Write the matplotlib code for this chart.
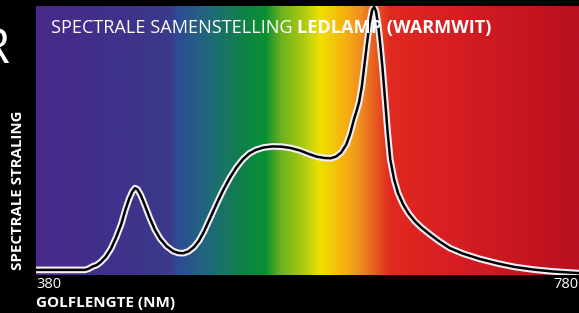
import matplotlib
matplotlib.use("Agg")
import matplotlib.pyplot as plt
import numpy as np
from matplotlib.colors import LinearSegmentedColormap

golflengte = [380, 418, 421, 424, 427, 430, 434, 438, 442, 446, 449, 452, 454.5, 456.6,
              458.5, 461, 464, 468, 472, 476, 481, 486, 490, 494, 498, 502, 506, 510,
              515, 520, 525, 530, 535, 540, 545, 550, 556, 563, 570, 577, 584, 591, 597,
              603, 608, 612, 616, 620, 623, 626, 628, 630, 632, 634, 636, 638, 640,
              641.5, 643, 644.5, 646, 648, 650, 652, 654, 657, 660, 664, 668, 673, 678,
              685, 692, 700, 710, 723, 737, 750, 765, 780, 800]
straling = [0.019, 0.019, 0.024, 0.032, 0.037, 0.048, 0.068, 0.098, 0.140, 0.190, 0.240,
            0.283, 0.310, 0.323, 0.318, 0.297, 0.262, 0.212, 0.168, 0.135, 0.107, 0.089,
            0.082, 0.081, 0.088, 0.103, 0.127, 0.162, 0.215, 0.268, 0.318, 0.362, 0.400,
            0.430, 0.452, 0.465, 0.474, 0.478, 0.477, 0.472, 0.463, 0.450, 0.440, 0.435,
            0.434, 0.440, 0.455, 0.485, 0.525, 0.580, 0.610, 0.645, 0.700, 0.780, 0.860,
            0.935, 0.985, 0.997, 0.980, 0.935, 0.870, 0.770, 0.651, 0.530, 0.430, 0.355,
            0.305, 0.262, 0.230, 0.200, 0.177, 0.150, 0.125, 0.100, 0.080, 0.060, 0.043,
            0.030, 0.020, 0.013, 0.007]

# kleuren van het spectrum op de achtergrond
spectrum_nm = [380, 429.5, 483.7, 488.3, 514.6, 537.8, 557.9, 568.8, 588.1, 599.7,
               619.1, 630.7, 653.9, 700.3, 800]
spectrum_kleur = ['#4a2a88', '#40308a', '#3b3a8a', '#2e4a95', '#1f6a78', '#10804a',
                  '#0a9030', '#6ab020', '#b0cc10', '#f0e000', '#f5b010', '#f09020',
                  '#e02a20', '#d81e22', '#b8101e']

W, H = 579, 313
fig = plt.figure(figsize=(W / 100, H / 100), dpi=100, facecolor='black')
ax = fig.add_axes([36 / W, (H - 275) / H, (W - 36) / W, (275 - 6) / H])

xmin, xmax = 380, 800
pos = [(v - xmin) / (xmax - xmin) for v in spectrum_nm]
cmap = LinearSegmentedColormap.from_list('spectrum', list(zip(pos, spectrum_kleur)))
gradient = np.linspace(0, 1, 512).reshape(1, -1)
ax.imshow(gradient, aspect='auto', cmap=cmap, extent=(xmin, xmax, 0, 1), zorder=0)

# curve: witte rand met zwarte kern
ax.plot(golflengte, straling, color='#f4eef6', lw=4.8, solid_joinstyle='round',
        solid_capstyle='round', zorder=2)
ax.plot(golflengte, straling, color='black', lw=1.8, solid_joinstyle='round',
        solid_capstyle='round', zorder=3)

ax.set_xlim(xmin, xmax)
ax.set_ylim(0, 1)
ax.axis('off')

fam = ['Open Sans', 'DejaVu Sans']

# titel in twee delen
t1 = fig.text(51 / W, 1 - 33 / H, 'SPECTRALE SAMENSTELLING ', color='white',
              fontsize=13.1, family=fam, va='baseline', ha='left')
fig.canvas.draw()
ax.annotate('LEDLAMP (WARMWIT)', xy=(1, 0), xycoords=t1, va='bottom', ha='left',
            color='white', fontsize=13.1, family=fam, fontweight='bold')

# as-teksten
fig.text(36 / W, 1 - 288 / H, '380', color='white', fontsize=10.5, family=fam,
         va='baseline', ha='left')
fig.text(553 / W, 1 - 288 / H, '780', color='white', fontsize=10.5, family=fam,
         va='baseline', ha='left')
fig.text(36 / W, 1 - 307 / H, 'GOLFLENGTE (NM)', color='white', fontsize=11, family=fam,
         fontweight='bold', va='baseline', ha='left')
fig.text(18 / W, 1 - 190 / H, 'SPECTRALE STRALING', color='white', fontsize=10.8,
         family=fam, fontweight='bold', rotation=90, va='center', ha='center')

# afgesneden letter links boven
fig.text(9 / W, 1 - 63 / H, 'R', color='white', fontsize=35, family=fam,
         va='baseline', ha='right')

fig.savefig('out.png', dpi=100, facecolor='black')
